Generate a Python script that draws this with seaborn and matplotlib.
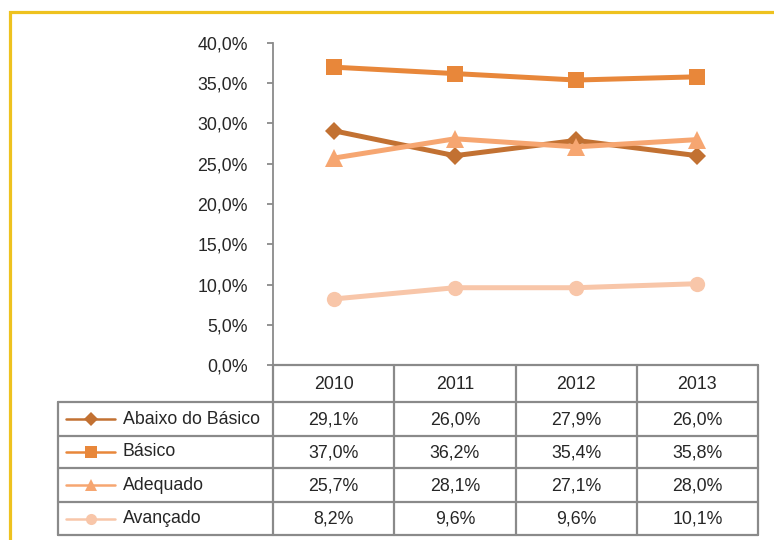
import matplotlib
matplotlib.use("Agg")
import matplotlib.pyplot as plt
from matplotlib.patches import Rectangle
from matplotlib.ticker import FuncFormatter
import seaborn as sns
import pandas as pd

# ── Data ───────────────────────────────────────────────────────
anos = ["2010", "2011", "2012", "2013"]
niveis = ["Abaixo do Básico", "Básico", "Adequado", "Avançado"]
abaixo = [29.1, 26.0, 27.9, 26.0]
basico = [37.0, 36.2, 35.4, 35.8]
adequado = [25.7, 28.1, 27.1, 28.0]
avancado = [8.2, 9.6, 9.6, 10.1]

cores = ["#C27132", "#E8873A", "#F6A671", "#F8C6A9"]
marcadores = ["D", "s", "^", "o"]
tam_marc = [9.5, 11.5, 13.5, 11]

series = [abaixo, basico, adequado, avancado]

# ── Style ──────────────────────────────────────────────────────
sns.set_style("white")
plt.rcParams["font.family"] = ["Liberation Sans", "DejaVu Sans"]
txt = "#262626"
grid_c = "#8A8A8A"
fs = 12.8

W, H = 774, 540
fig = plt.figure(figsize=(W / 100, H / 100), dpi=100)

def fx(px):
    return px / W

def fy(py):
    return 1 - py / H

# yellow frame
fig.patches.append(Rectangle((fx(9.5), fy(600)), fx(900), fy(11.5) - fy(600),
                             transform=fig.transFigure, fill=False,
                             edgecolor="#EEC21F", linewidth=2.3))

# ── Main line chart ────────────────────────────────────────────
ax = fig.add_axes([fx(273), fy(365), fx(758) - fx(273), fy(43) - fy(365)])
for nome, vals, cor, mk, ms in zip(niveis, series, cores, marcadores, tam_marc):
    d = pd.DataFrame({"pos": range(len(anos)), "valor": vals})
    sns.lineplot(data=d, x="pos", y="valor", color=cor, marker=mk,
                 markersize=ms, markeredgewidth=0, linewidth=3.6, ax=ax)
ax.set_xlim(-0.5, 3.5)
ax.set_ylim(0, 40)
ax.set_yticks(range(0, 41, 5))
ax.yaxis.set_major_formatter(FuncFormatter(lambda v, p: f"{v:.1f}%".replace(".", ",")))
ax.set_xticks([])
ax.set_xlabel("")
ax.set_ylabel("")
for s in ["top", "right", "bottom"]:
    ax.spines[s].set_visible(False)
ax.spines["left"].set_color(grid_c)
ax.spines["left"].set_linewidth(1.3)
ax.tick_params(axis="y", left=True, length=4, width=1.3, color=grid_c,
               pad=14, labelsize=fs, labelcolor=txt, direction="out")
ax.patch.set_alpha(0)

# ── Data table ─────────────────────────────────────────────────
tab = fig.add_axes([fx(58), fy(535), fx(758) - fx(58), fy(365) - fy(535)])
step = (758 - 273) / 4

def dx(px):
    return (px - 273) / step - 0.5

tab.set_xlim(dx(58), 3.5)
tab.set_ylim(535, 365)
tab.axis("off")

lw = 1.6
row_y = [365, 402, 436, 468, 502, 535]
tab.plot([-0.5, 3.5], [365, 365], color=grid_c, lw=lw, clip_on=False)
for y in row_y[1:]:
    tab.plot([dx(58), 3.5], [y, y], color=grid_c, lw=lw, clip_on=False)
tab.plot([dx(58), dx(58)], [402, 535], color=grid_c, lw=lw, clip_on=False)
for xb in [-0.5, 0.5, 1.5, 2.5, 3.5]:
    tab.plot([xb, xb], [365, 535], color=grid_c, lw=lw, clip_on=False)

for i, a in enumerate(anos):
    tab.text(i, (row_y[0] + row_y[1]) / 2 + 1, a, ha="center", va="center",
             fontsize=fs, color=txt)

for r, (nome, vals) in enumerate(zip(niveis, series)):
    yc = (row_y[r + 1] + row_y[r + 2]) / 2
    tab.plot([dx(66), dx(115)], [yc, yc], color=cores[r], lw=1.8,
             clip_on=False)
    tab.plot([dx(90.5)], [yc], marker=marcadores[r], color=cores[r],
             markersize=8 if marcadores[r] != "D" else 7, markeredgewidth=0,
             clip_on=False)
    tab.text(dx(123), yc, nome, ha="left", va="center", fontsize=fs, color=txt)
    for i, v in enumerate(vals):
        tab.text(i, yc + 1, f"{v:.1f}%".replace(".", ","), ha="center",
                 va="center", fontsize=fs, color=txt)

fig.savefig("out.png", dpi=100)
